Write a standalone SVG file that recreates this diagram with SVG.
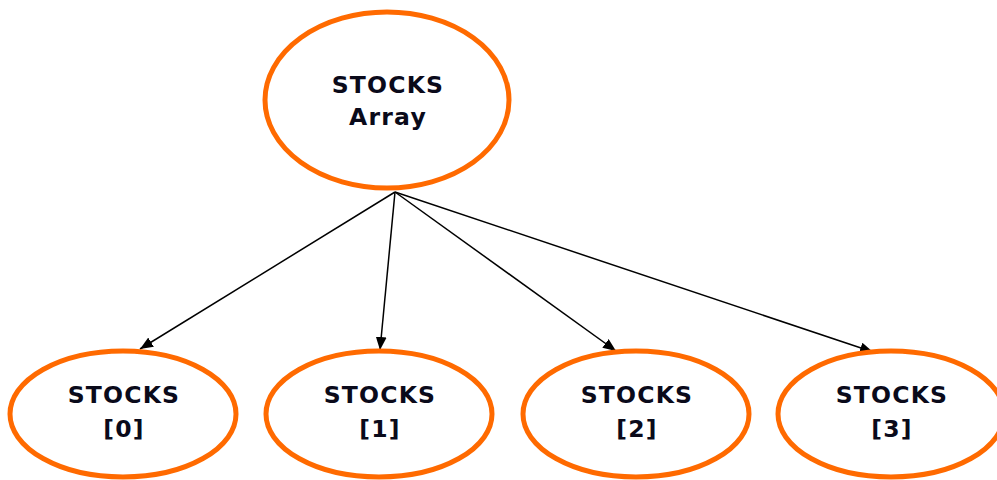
<svg xmlns="http://www.w3.org/2000/svg" width="997" height="480" viewBox="0 0 997 480">
<style>
.n{fill:#fff;stroke:#ff6a00;stroke-width:5}
.t{font-family:"DejaVu Sans",Verdana,sans-serif;font-weight:bold;font-size:23.5px;letter-spacing:1.2px;fill:#0a0a1a;text-anchor:middle}
.e{stroke:#000;stroke-width:1.5;fill:none;marker-end:url(#a)}
</style>
<defs>
<marker id="a" viewBox="0 0 12 10" refX="12" refY="5" markerWidth="13" markerHeight="11" markerUnits="userSpaceOnUse" orient="auto"><path d="M0,0L12,5L0,10z" fill="#000"/></marker>
</defs>
<rect width="997" height="480" fill="#fff"/>
<g id="edges">
<line class="e" x1="395" y1="192" x2="140" y2="349"/>
<line class="e" x1="395" y1="192" x2="380" y2="350"/>
<line class="e" x1="395" y1="192" x2="616" y2="351"/>
<line class="e" x1="395" y1="192" x2="873" y2="352"/>
</g>
<g id="root"><ellipse class="n" cx="387" cy="100" rx="122" ry="88"/><text class="t" x="388" y="93">STOCKS</text><text class="t" x="388" y="125">Array</text></g>
<g id="s0"><ellipse class="n" cx="123" cy="414" rx="113" ry="63"/><text class="t" x="124" y="403">STOCKS</text><text class="t" x="124" y="437">[0]</text></g>
<g id="s1"><ellipse class="n" cx="379" cy="414" rx="113" ry="63"/><text class="t" x="380" y="403">STOCKS</text><text class="t" x="380" y="437">[1]</text></g>
<g id="s2"><ellipse class="n" cx="636" cy="414" rx="113" ry="63"/><text class="t" x="637" y="403">STOCKS</text><text class="t" x="637" y="437">[2]</text></g>
<g id="s3"><ellipse class="n" cx="891" cy="414" rx="113" ry="63"/><text class="t" x="892" y="403">STOCKS</text><text class="t" x="892" y="437">[3]</text></g>
</svg>
